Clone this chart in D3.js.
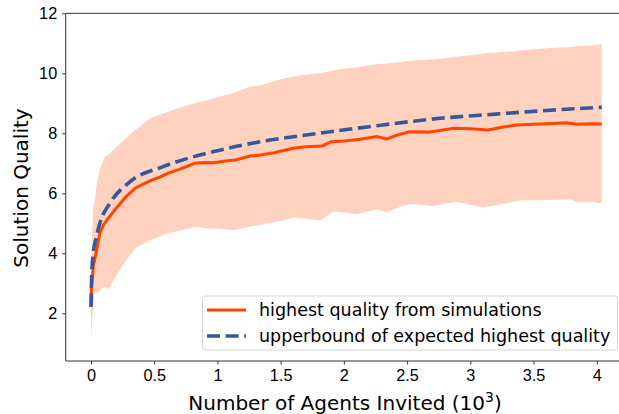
<!DOCTYPE html>
<meta charset="utf-8">
<style>
body { margin: 0; background: #fff; }
svg { font-family: "DejaVu Sans", sans-serif; }
.axis text { font-size: 16.3px; fill: #000; }
.axis path, .axis line { fill: none; stroke: #333; stroke-width: 1px; }
</style>
<body>
<script src="https://cdn.jsdelivr.net/npm/d3@7"></script>
<script>

// mean of simulations (x in thousands of agents)
var simX = [0, 0.005, 0.018, 0.04, 0.07, 0.1, 0.137, 0.2, 0.28, 0.35, 0.42, 0.48, 0.55, 0.61, 0.7, 0.82, 0.9, 0.97, 1.05, 1.14, 1.26, 1.34, 1.45, 1.6, 1.7, 1.83, 1.9, 2.0, 2.13, 2.26, 2.34, 2.42, 2.52, 2.68, 2.76, 2.87, 3.0, 3.14, 3.25, 3.37, 3.5, 3.65, 3.76, 3.84, 3.95, 4.04];
var simY = [2.22, 2.9, 3.55, 4.0, 4.68, 4.95, 5.17, 5.5, 5.9, 6.17, 6.32, 6.44, 6.55, 6.67, 6.8, 7.0, 7.03, 7.02, 7.07, 7.11, 7.24, 7.28, 7.35, 7.5, 7.55, 7.58, 7.72, 7.74, 7.8, 7.89, 7.81, 7.94, 8.05, 8.04, 8.09, 8.17, 8.15, 8.11, 8.2, 8.28, 8.3, 8.33, 8.35, 8.3, 8.32, 8.31];

// band of simulations (upper / lower)
var bandX = [0, 0.005, 0.018, 0.03, 0.045, 0.07, 0.11, 0.137, 0.2, 0.28, 0.35, 0.47, 0.61, 0.7, 0.78, 0.82, 0.86, 0.92, 1.0, 1.13, 1.26, 1.34, 1.39, 1.5, 1.61, 1.7, 1.81, 1.92, 2.0, 2.1, 2.26, 2.34, 2.45, 2.52, 2.71, 2.8, 2.89, 3.0, 3.1, 3.21, 3.3, 3.39, 3.5, 3.63, 3.79, 3.84, 3.95, 4.04];
var bandHi = [2.6, 4.2, 5.55, 5.68, 6.3, 6.8, 7.22, 7.28, 7.55, 7.85, 8.11, 8.5, 8.72, 8.85, 8.95, 9.0, 9.05, 9.1, 9.2, 9.35, 9.55, 9.6, 9.65, 9.8, 9.9, 9.95, 10.0, 10.1, 10.15, 10.2, 10.3, 10.33, 10.38, 10.42, 10.47, 10.5, 10.55, 10.6, 10.66, 10.69, 10.72, 10.76, 10.8, 10.84, 10.88, 10.9, 10.93, 10.97];
var bandLo = [1.0, 1.6, 2.2, 2.67, 2.67, 2.75, 2.89, 2.8, 3.25, 3.78, 4.17, 4.44, 4.67, 4.75, 4.83, 4.89, 4.87, 4.83, 4.82, 4.78, 4.89, 4.94, 5.0, 5.08, 5.19, 5.15, 5.09, 5.39, 5.36, 5.3, 5.47, 5.36, 5.55, 5.64, 5.58, 5.66, 5.72, 5.62, 5.53, 5.61, 5.68, 5.76, 5.77, 5.78, 5.8, 5.7, 5.72, 5.67];

// upper bound of expected highest quality
var ubX = [0, 0.005, 0.018, 0.04, 0.07, 0.15, 0.31, 0.57, 0.97, 1.34, 1.8, 2.2, 2.76, 3.2, 3.6, 4.04];
var ubY = [2.22, 3.2, 4.0, 4.5, 5.0, 5.67, 6.39, 6.89, 7.39, 7.72, 8.0, 8.22, 8.5, 8.64, 8.76, 8.87];

var xTicks = [0, 0.5, 1, 1.5, 2, 2.5, 3, 3.5, 4];
var yTicks = [2, 4, 6, 8, 10, 12];
var legendLabels = ["highest quality from simulations", "upperbound of expected highest quality"];

var W = 619, H = 414;
var plotLeft = 65.7, plotTop = 13.3, plotBottom = 361;

var x = d3.scaleLinear().domain([-0.2, 4.24]).range([plotLeft, 627.1]);
var y = d3.scaleLinear().domain([0.41, 12]).range([plotBottom, plotTop]);

var svg = d3.select("body").append("svg")
    .attr("width", W)
    .attr("height", H);

var band = bandX.map(function(d, i) { return [d, bandLo[i], bandHi[i]]; });
var sim = simX.map(function(d, i) { return [d, simY[i]]; });
var ub = ubX.map(function(d, i) { return [d, ubY[i]]; });

svg.append("path")
    .datum(band)
    .attr("fill", "#ffd1bf")
    .attr("d", d3.area()
        .x(function(d) { return x(d[0]); })
        .y0(function(d) { return y(d[1]); })
        .y1(function(d) { return y(d[2]); }));

svg.append("path")
    .datum(sim)
    .attr("fill", "none")
    .attr("stroke", "#ff4500")
    .attr("stroke-width", 3)
    .attr("d", d3.line()
        .x(function(d) { return x(d[0]); })
        .y(function(d) { return y(d[1]); }));

svg.append("path")
    .datum(ub)
    .attr("fill", "none")
    .attr("stroke", "#35589a")
    .attr("stroke-width", 3.6)
    .attr("stroke-dasharray", "13,5.6")
    .attr("d", d3.line()
        .curve(d3.curveMonotoneX)
        .x(function(d) { return x(d[0]); })
        .y(function(d) { return y(d[1]); }));

// axes
svg.append("g")
    .attr("class", "x axis")
    .attr("transform", "translate(0," + plotBottom + ")")
    .call(d3.axisBottom(x).tickValues(xTicks).tickSize(3.5).tickPadding(5)
        .tickFormat(function(d) { return String(d); }))
    .call(function(g) { g.select(".domain").remove(); });

svg.append("g")
    .attr("class", "y axis")
    .attr("transform", "translate(" + plotLeft + ",0)")
    .call(d3.axisLeft(y).tickValues(yTicks).tickSize(3.5).tickPadding(5))
    .call(function(g) { g.select(".domain").remove(); });

// spines
svg.append("line").attr("x1", plotLeft).attr("x2", plotLeft).attr("y1", plotTop).attr("y2", plotBottom)
    .attr("stroke", "#333");
svg.append("line").attr("x1", plotLeft).attr("x2", W).attr("y1", plotBottom).attr("y2", plotBottom)
    .attr("stroke", "#333");
svg.append("line").attr("x1", plotLeft).attr("x2", W).attr("y1", plotTop).attr("y2", plotTop)
    .attr("stroke", "#333");

// labels
svg.append("text")
    .attr("x", 345).attr("y", 410)
    .attr("text-anchor", "middle")
    .style("font-size", "20px")
    .html("Number of Agents Invited (10<tspan dy='-8' font-size='14px'>3</tspan><tspan dy='8'>)</tspan>");

svg.append("text")
    .attr("transform", "translate(28,188) rotate(-90)")
    .attr("text-anchor", "middle")
    .style("font-size", "20px")
    .text("Solution Quality");

// legend
var lg = svg.append("g");
lg.append("rect")
    .attr("x", 202.5).attr("y", 296).attr("width", 415).attr("height", 54)
    .attr("rx", 3)
    .attr("fill", "#fff").attr("fill-opacity", 0.8)
    .attr("stroke", "#d5d5d5");
lg.append("line").attr("x1", 207).attr("x2", 246).attr("y1", 310).attr("y2", 310)
    .attr("stroke", "#ff4500").attr("stroke-width", 3);
lg.append("line").attr("x1", 207).attr("x2", 246).attr("y1", 336).attr("y2", 336)
    .attr("stroke", "#35589a").attr("stroke-width", 3.6).attr("stroke-dasharray", "13,5.6");
lg.selectAll("text.lab")
    .data(legendLabels)
    .enter().append("text")
    .attr("class", "lab")
    .attr("x", 259)
    .attr("y", function(d, i) { return 316 + i * 26; })
    .style("font-size", "17.5px")
    .text(function(d) { return d; });

</script>
